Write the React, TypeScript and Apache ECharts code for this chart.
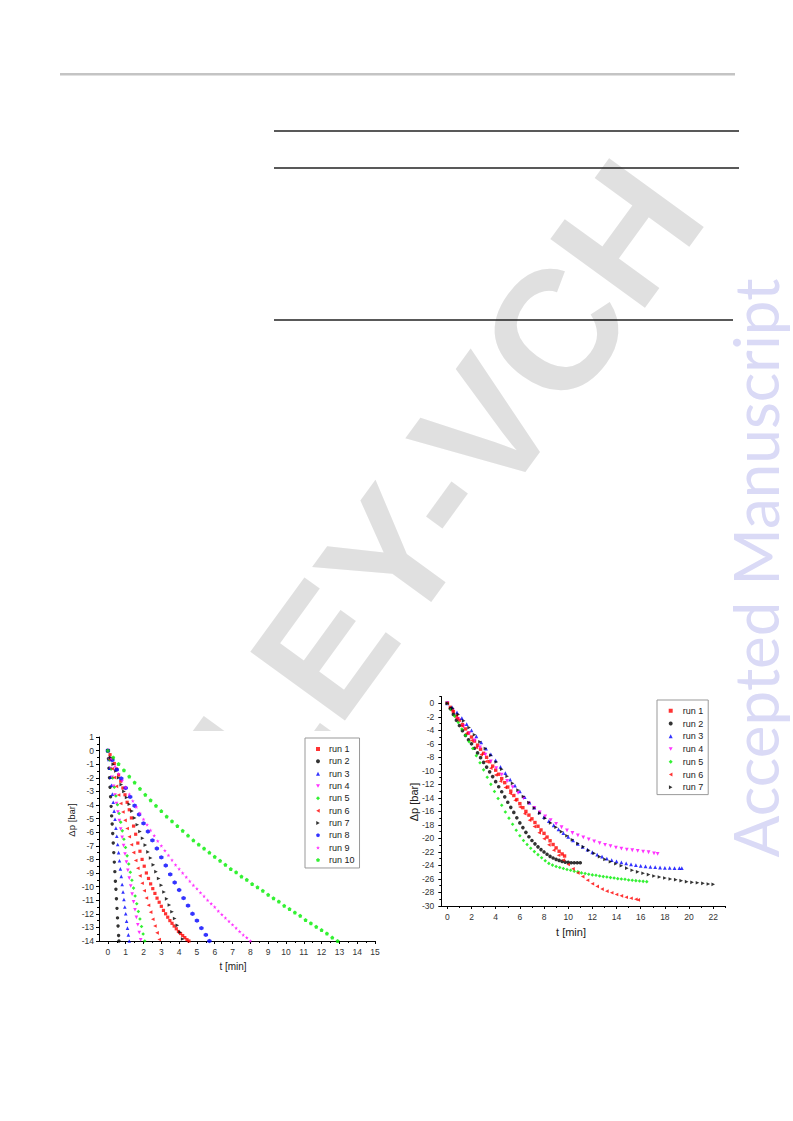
import React, { useEffect, useRef } from 'react';
import * as echarts from 'echarts';

// ---------- tick labels ----------
const LEFT_X_LABELS = [0, 1, 2, 3, 4, 5, 6, 7, 8, 9, 10, 11, 12, 13, 14, 15];
const LEFT_X_MINOR = [0.5, 1.5, 2.5, 3.5, 4.5, 5.5, 6.5, 7.5, 8.5, 9.5, 10.5, 11.5, 12.5, 13.5, 14.5];
const LEFT_Y_LABELS = [1, 0, -1, -2, -3, -4, -5, -6, -7, -8, -9, -10, -11, -12, -13, -14];
const LEFT_Y_MINOR = [0.5, -0.5, -1.5, -2.5, -3.5, -4.5, -5.5, -6.5, -7.5, -8.5, -9.5, -10.5, -11.5, -12.5, -13.5];
const RIGHT_X_LABELS = [0, 2, 4, 6, 8, 10, 12, 14, 16, 18, 20, 22];
const RIGHT_X_MINOR = [1, 3, 5, 7, 9, 11, 13, 15, 17, 19, 21, 23];
const RIGHT_Y_LABELS = [0, -2, -4, -6, -8, -10, -12, -14, -16, -18, -20, -22, -24, -26, -28, -30];
const RIGHT_Y_MINOR = [1, -1, -3, -5, -7, -9, -11, -13, -15, -17, -19, -21, -23, -25, -27, -29];

// ---------- categories ----------
const LEFT_NAMES = ['run 1', 'run 2', 'run 3', 'run 4', 'run 5', 'run 6', 'run 7', 'run 8', 'run 9', 'run 10'];
const RIGHT_NAMES = ['run 1', 'run 2', 'run 3', 'run 4', 'run 5', 'run 6', 'run 7'];

// ---------- left chart series [t, dp] ----------
const L1 = [[0,0],[0.12,-0.3],[0.24,-0.6],[0.36,-0.95],[0.48,-1.35],[0.6,-1.8],[0.72,-2.25],[0.84,-2.75],[0.96,-3.25],[1.08,-3.8],[1.2,-4.35],[1.32,-4.95],[1.44,-5.55],[1.56,-6.15],[1.68,-6.8],[1.8,-7.4],[1.92,-8.0],[2.04,-8.5],[2.16,-9.0],[2.28,-9.4],[2.4,-9.8],[2.52,-10.15],[2.64,-10.5],[2.76,-10.85],[2.88,-11.15],[3.0,-11.45],[3.12,-11.75],[3.24,-12.0],[3.36,-12.25],[3.48,-12.5],[3.6,-12.7],[3.72,-12.9],[3.84,-13.1],[3.96,-13.3],[4.08,-13.45],[4.2,-13.6],[4.32,-13.75],[4.44,-13.9],[4.55,-14.0]];
const L2 = [[0,0],[0.03,-0.6],[0.06,-1.3],[0.09,-2.0],[0.12,-2.7],[0.15,-3.4],[0.18,-4.1],[0.21,-4.8],[0.24,-5.4],[0.27,-6.1],[0.3,-6.8],[0.33,-7.5],[0.36,-8.2],[0.39,-8.9],[0.42,-9.6],[0.45,-10.2],[0.48,-10.9],[0.51,-11.6],[0.54,-12.3],[0.57,-12.9],[0.6,-13.6],[0.62,-14.0]];
const L3 = [[0,0],[0.05,-0.65],[0.1,-1.3],[0.15,-1.95],[0.2,-2.55],[0.25,-3.2],[0.3,-3.8],[0.35,-4.45],[0.4,-5.05],[0.45,-5.7],[0.5,-6.3],[0.55,-6.9],[0.6,-7.5],[0.65,-8.1],[0.7,-8.7],[0.75,-9.25],[0.8,-9.85],[0.85,-10.4],[0.9,-10.95],[0.95,-11.5],[1.0,-12.0],[1.05,-12.55],[1.1,-13.05],[1.15,-13.55],[1.2,-14.0]];
const L4 = [[0,0],[0.08,-0.66],[0.16,-1.32],[0.24,-1.97],[0.32,-2.62],[0.4,-3.26],[0.48,-3.89],[0.56,-4.52],[0.64,-5.15],[0.72,-5.77],[0.8,-6.38],[0.88,-6.99],[0.96,-7.6],[1.04,-8.2],[1.12,-8.8],[1.2,-9.38],[1.28,-9.96],[1.36,-10.55],[1.44,-11.12],[1.52,-11.7],[1.6,-12.26],[1.68,-12.81],[1.76,-13.37],[1.84,-13.92]];
const L5 = [[0,0],[0.09,-0.68],[0.18,-1.36],[0.27,-2.02],[0.36,-2.69],[0.45,-3.34],[0.54,-3.98],[0.63,-4.63],[0.72,-5.26],[0.81,-5.9],[0.9,-6.52],[0.99,-7.13],[1.08,-7.74],[1.17,-8.34],[1.26,-8.94],[1.35,-9.53],[1.44,-10.11],[1.53,-10.69],[1.62,-11.26],[1.71,-11.83],[1.8,-12.38],[1.89,-12.93],[1.98,-13.48],[2.07,-14.0]];
const L6 = [[0,0],[0.12,-0.67],[0.24,-1.33],[0.36,-1.98],[0.48,-2.63],[0.6,-3.26],[0.72,-3.89],[0.84,-4.51],[0.96,-5.13],[1.08,-5.73],[1.2,-6.33],[1.32,-6.92],[1.44,-7.5],[1.56,-8.08],[1.68,-8.65],[1.8,-9.21],[1.92,-9.75],[2.04,-10.3],[2.16,-10.84],[2.28,-11.37],[2.4,-11.88],[2.52,-12.4],[2.64,-12.9],[2.76,-13.4],[2.88,-13.89]];
const L7 = [[0,0],[0.15,-0.5],[0.3,-1.0],[0.45,-1.5],[0.6,-2.0],[0.75,-2.5],[0.9,-3.0],[1.05,-3.45],[1.2,-3.95],[1.35,-4.45],[1.5,-4.95],[1.65,-5.45],[1.8,-5.95],[1.95,-6.45],[2.1,-6.95],[2.25,-7.45],[2.4,-7.9],[2.55,-8.4],[2.7,-8.9],[2.85,-9.4],[3.0,-9.9],[3.15,-10.4],[3.3,-10.9],[3.45,-11.35],[3.6,-11.85],[3.75,-12.35],[3.9,-12.85],[4.05,-13.35],[4.2,-13.85]];
const L8 = [[0,0],[0.25,-0.7],[0.5,-1.4],[0.75,-2.05],[1.0,-2.75],[1.25,-3.4],[1.5,-4.05],[1.75,-4.7],[2.0,-5.35],[2.25,-5.95],[2.5,-6.6],[2.75,-7.2],[3.0,-7.85],[3.25,-8.45],[3.5,-9.1],[3.75,-9.7],[4.0,-10.25],[4.25,-10.85],[4.5,-11.4],[4.75,-12.0],[5.0,-12.5],[5.25,-13.05],[5.5,-13.55],[5.7,-14.0]];
const L9 = [[0,0],[0.2,-0.6],[0.4,-1.15],[0.6,-1.7],[0.8,-2.2],[1.0,-2.7],[1.2,-3.2],[1.4,-3.7],[1.6,-4.15],[1.8,-4.6],[2.0,-5.05],[2.2,-5.45],[2.4,-5.85],[2.6,-6.25],[2.8,-6.65],[3.0,-7.0],[3.2,-7.35],[3.4,-7.7],[3.6,-8.05],[3.8,-8.4],[4.0,-8.7],[4.2,-9.0],[4.4,-9.3],[4.6,-9.6],[4.8,-9.9],[5.0,-10.15],[5.2,-10.45],[5.4,-10.7],[5.6,-11.0],[5.8,-11.25],[6.0,-11.5],[6.2,-11.8],[6.4,-12.05],[6.6,-12.3],[6.8,-12.55],[7.0,-12.8],[7.2,-13.05],[7.4,-13.3],[7.6,-13.55],[7.8,-13.75],[8.0,-14.0]];
const L10 = [[0,0],[0.3,-0.5],[0.6,-0.98],[0.9,-1.45],[1.2,-1.9],[1.5,-2.35],[1.8,-2.8],[2.1,-3.25],[2.4,-3.65],[2.7,-4.05],[3.0,-4.45],[3.3,-4.85],[3.6,-5.2],[3.9,-5.55],[4.2,-5.9],[4.5,-6.25],[4.8,-6.6],[5.1,-6.9],[5.4,-7.2],[5.7,-7.5],[6.0,-7.8],[6.3,-8.1],[6.6,-8.4],[6.9,-8.7],[7.2,-8.95],[7.5,-9.25],[7.8,-9.5],[8.1,-9.8],[8.4,-10.05],[8.7,-10.3],[9.0,-10.6],[9.3,-10.85],[9.6,-11.1],[9.9,-11.4],[10.2,-11.65],[10.5,-11.9],[10.8,-12.15],[11.1,-12.45],[11.4,-12.7],[11.7,-12.95],[12.0,-13.2],[12.3,-13.45],[12.6,-13.75],[12.9,-14.0]];

// ---------- right chart series [t, dp] ----------
const R1 = [[0,0],[0.25,-0.6],[0.5,-1.25],[0.75,-1.9],[1.0,-2.5],[1.25,-3.15],[1.5,-3.8],[1.75,-4.4],[2.0,-5.0],[2.25,-5.6],[2.5,-6.2],[2.75,-6.8],[3.0,-7.4],[3.25,-8.0],[3.5,-8.65],[3.75,-9.3],[4.0,-9.9],[4.25,-10.5],[4.5,-11.15],[4.75,-11.75],[5.0,-12.4],[5.25,-13.0],[5.5,-13.65],[5.75,-14.25],[6.0,-14.85],[6.25,-15.45],[6.5,-16.0],[6.75,-16.55],[7.0,-17.1],[7.25,-17.65],[7.5,-18.2],[7.75,-18.75],[8.0,-19.25],[8.25,-19.8],[8.5,-20.35],[8.75,-20.9],[9.0,-21.4],[9.25,-21.9],[9.5,-22.3],[9.7,-22.6]];
const R2 = [[0,0],[0.25,-0.8],[0.5,-1.65],[0.75,-2.5],[1.0,-3.3],[1.25,-4.05],[1.5,-4.75],[1.75,-5.4],[2.0,-6.0],[2.25,-6.65],[2.5,-7.35],[2.75,-8.05],[3.0,-8.75],[3.25,-9.45],[3.5,-10.15],[3.75,-10.85],[4.0,-11.6],[4.25,-12.35],[4.5,-13.1],[4.75,-13.85],[5.0,-14.65],[5.25,-15.4],[5.5,-16.15],[5.75,-16.95],[6.0,-17.7],[6.25,-18.4],[6.5,-19.1],[6.75,-19.75],[7.0,-20.3],[7.25,-20.8],[7.5,-21.25],[7.75,-21.65],[8.0,-22.0],[8.25,-22.35],[8.5,-22.65],[8.75,-22.9],[9.0,-23.1],[9.25,-23.25],[9.5,-23.4],[9.75,-23.5],[10.0,-23.55],[10.25,-23.6],[10.5,-23.6],[10.75,-23.6],[11.0,-23.6]];
const R3 = [[0,0],[0.4,-0.6],[0.8,-1.35],[1.2,-2.2],[1.6,-3.1],[2.0,-4.0],[2.4,-4.9],[2.8,-5.8],[3.2,-6.7],[3.6,-7.55],[4.0,-8.45],[4.4,-9.4],[4.8,-10.35],[5.2,-11.3],[5.6,-12.2],[6.0,-13.05],[6.4,-13.9],[6.8,-14.7],[7.2,-15.45],[7.6,-16.15],[8.0,-16.85],[8.4,-17.45],[8.8,-18.05],[9.2,-18.65],[9.6,-19.2],[10.0,-19.75],[10.4,-20.3],[10.8,-20.8],[11.2,-21.25],[11.6,-21.65],[12.0,-22.05],[12.4,-22.4],[12.8,-22.7],[13.2,-23.0],[13.6,-23.2],[14.0,-23.4],[14.4,-23.55],[14.8,-23.7],[15.2,-23.85],[15.6,-23.95],[16.0,-24.05],[16.4,-24.15],[16.8,-24.2],[17.2,-24.25],[17.6,-24.3],[18.0,-24.35],[18.4,-24.35],[18.8,-24.4],[19.2,-24.4],[19.4,-24.4]];
const R4 = [[0,0],[0.45,-1.1],[0.9,-2.3],[1.35,-3.4],[1.8,-4.45],[2.25,-5.5],[2.7,-6.55],[3.15,-7.6],[3.6,-8.6],[4.05,-9.6],[4.5,-10.55],[4.95,-11.5],[5.4,-12.4],[5.85,-13.25],[6.3,-14.05],[6.75,-14.8],[7.2,-15.5],[7.65,-16.15],[8.1,-16.75],[8.55,-17.3],[9.0,-17.85],[9.45,-18.35],[9.9,-18.8],[10.35,-19.2],[10.8,-19.55],[11.25,-19.85],[11.7,-20.15],[12.15,-20.45],[12.6,-20.7],[13.05,-20.95],[13.5,-21.15],[13.95,-21.35],[14.4,-21.5],[14.85,-21.65],[15.3,-21.75],[15.75,-21.85],[16.2,-21.95],[16.65,-22.05],[17.1,-22.2],[17.4,-22.3]];
const R5 = [[0,0],[0.3,-0.95],[0.6,-1.9],[0.9,-2.85],[1.2,-3.8],[1.5,-4.75],[1.8,-5.7],[2.1,-6.7],[2.4,-7.75],[2.7,-8.8],[3.0,-9.85],[3.3,-10.95],[3.6,-12.0],[3.9,-13.05],[4.2,-14.1],[4.5,-15.1],[4.8,-16.1],[5.1,-17.0],[5.4,-17.9],[5.7,-18.8],[6.0,-19.6],[6.3,-20.3],[6.6,-20.9],[6.9,-21.45],[7.2,-21.95],[7.5,-22.4],[7.8,-22.85],[8.1,-23.3],[8.4,-23.7],[8.7,-23.95],[9.0,-24.15],[9.3,-24.3],[9.6,-24.45],[9.9,-24.6],[10.2,-24.7],[10.5,-24.85],[10.8,-24.95],[11.1,-25.1],[11.4,-25.2],[11.7,-25.3],[12.0,-25.4],[12.3,-25.45],[12.6,-25.55],[12.9,-25.65],[13.2,-25.7],[13.5,-25.8],[13.8,-25.85],[14.1,-25.95],[14.4,-26.0],[14.7,-26.05],[15.0,-26.15],[15.3,-26.2],[15.6,-26.25],[15.9,-26.3],[16.2,-26.35],[16.5,-26.4]];
const R6 = [[0,0],[0.4,-1.1],[0.8,-2.25],[1.2,-3.35],[1.6,-4.45],[2.0,-5.5],[2.4,-6.55],[2.8,-7.6],[3.2,-8.6],[3.6,-9.6],[4.0,-10.6],[4.4,-11.55],[4.8,-12.45],[5.2,-13.35],[5.6,-14.35],[6.0,-15.35],[6.4,-16.35],[6.8,-17.3],[7.2,-18.25],[7.6,-19.15],[8.0,-20.05],[8.4,-20.95],[8.8,-21.75],[9.2,-22.5],[9.6,-23.2],[10.0,-23.85],[10.4,-24.5],[10.8,-25.1],[11.2,-25.65],[11.6,-26.2],[12.0,-26.7],[12.4,-27.1],[12.8,-27.5],[13.2,-27.8],[13.6,-28.05],[14.0,-28.3],[14.4,-28.5],[14.8,-28.7],[15.2,-28.85],[15.6,-29.0],[15.8,-29.1]];
const R7 = [[0,0],[0.45,-0.75],[0.9,-1.65],[1.35,-2.6],[1.8,-3.6],[2.25,-4.65],[2.7,-5.7],[3.15,-6.7],[3.6,-7.7],[4.05,-8.7],[4.5,-9.75],[4.95,-10.8],[5.4,-11.85],[5.85,-12.85],[6.3,-13.8],[6.75,-14.7],[7.2,-15.5],[7.65,-16.25],[8.1,-17.0],[8.55,-17.7],[9.0,-18.35],[9.45,-19.0],[9.9,-19.6],[10.35,-20.2],[10.8,-20.75],[11.25,-21.25],[11.7,-21.75],[12.15,-22.2],[12.6,-22.7],[13.05,-23.1],[13.5,-23.45],[13.95,-23.75],[14.4,-24.05],[14.85,-24.4],[15.3,-24.7],[15.75,-24.95],[16.2,-25.15],[16.65,-25.35],[17.1,-25.55],[17.55,-25.7],[18.0,-25.85],[18.45,-26.0],[18.9,-26.1],[19.35,-26.25],[19.8,-26.4],[20.25,-26.5],[20.7,-26.55],[21.15,-26.65],[21.6,-26.75],[22.0,-26.8]];

const LEFT_DATA = [L1, L2, L3, L4, L5, L6, L7, L8, L9, L10];
const RIGHT_DATA = [R1, R2, R3, R4, R5, R6, R7];

// ---------- styles ----------
const COLORS = ['#ff0000', '#000000', '#0000ff', '#ff00ff', '#00ee00', '#ff0000', '#000000', '#0000ff', '#ff00ff', '#00ee00'];
const TRI_DOWN = 'path://M-10,-8.66 L10,-8.66 L0,8.66 Z';
const TRI_LEFT = 'path://M8.66,-10 L8.66,10 L-8.66,0 Z';
const TRI_RIGHT = 'path://M-8.66,-10 L-8.66,10 L8.66,0 Z';
const HEX = 'path://M0,-10 L8.66,-5 L8.66,5 L0,10 L-8.66,5 L-8.66,-5 Z';
const STAR = 'path://M0,-10 L2.35,-3.24 L9.51,-3.09 L3.8,1.24 L5.88,8.09 L0,4 L-5.88,8.09 L-3.8,1.24 L-9.51,-3.09 L-2.35,-3.24 Z';
const PENT = 'path://M0,-10 L9.51,-3.09 L5.88,8.09 L-5.88,8.09 L-9.51,-3.09 Z';
const SYMBOLS = ['rect', 'circle', 'triangle', TRI_DOWN, 'diamond', TRI_LEFT, TRI_RIGHT, HEX, STAR, PENT];
const LEFT_SIZES = [3.2, 3.4, 3.6, 3.6, 3.6, 3.6, 3.6, 4.4, 3.8, 4.0];
const RIGHT_SIZES = [3.4, 3.6, 3.8, 3.8, 3.6, 3.6, 3.6];

const FONT = '"Liberation Sans", Arial, sans-serif';

function mainXAxis(grid: number, min: number, max: number, labels: number[]) {
  return {
    type: 'value', gridIndex: grid, position: 'bottom', min, max, z: 5,
    axisLine: { show: true, onZero: false, lineStyle: { color: '#000', width: 1 } },
    axisTick: { show: true, customValues: labels, length: 3, lineStyle: { color: '#000' } },
    axisLabel: { customValues: labels, fontSize: 8.5, color: '#333', margin: 6, fontFamily: FONT },
    splitLine: { show: false },
  };
}
function minorXAxis(grid: number, min: number, max: number, ticks: number[]) {
  return {
    type: 'value', gridIndex: grid, position: 'bottom', min, max, z: 5,
    axisLine: { show: false, onZero: false },
    axisTick: { show: true, customValues: ticks, length: 2, lineStyle: { color: '#000' } },
    axisLabel: { show: false },
    splitLine: { show: false },
  };
}
function mainYAxis(grid: number, min: number, max: number, labels: number[], margin: number) {
  return {
    type: 'value', gridIndex: grid, position: 'left', min, max, z: 5,
    axisLine: { show: true, onZero: false, lineStyle: { color: '#000', width: 1 } },
    axisTick: { show: true, customValues: labels, length: 3, lineStyle: { color: '#000' } },
    axisLabel: { customValues: labels, fontSize: 8.5, color: '#333', margin, fontFamily: FONT },
    splitLine: { show: false },
  };
}
function minorYAxis(grid: number, min: number, max: number, ticks: number[]) {
  return {
    type: 'value', gridIndex: grid, position: 'left', min, max, z: 5,
    axisLine: { show: false, onZero: false },
    axisTick: { show: true, customValues: ticks, length: 2, lineStyle: { color: '#000' } },
    axisLabel: { show: false },
    splitLine: { show: false },
  };
}

export default function App() {
  const ref = useRef<HTMLDivElement>(null);
  useEffect(() => {
    if (!ref.current) return;
    const chart = echarts.init(ref.current, undefined, { renderer: 'svg' });

    const series: any[] = [];
    LEFT_DATA.forEach((d, i) => {
      series.push({
        type: 'scatter', name: LEFT_NAMES[i], xAxisIndex: 0, yAxisIndex: 0, data: d,
        symbol: SYMBOLS[i], symbolSize: LEFT_SIZES[i],
        itemStyle: { color: COLORS[i] }, z: 6, silent: true,
      });
    });
    RIGHT_DATA.forEach((d, i) => {
      series.push({
        type: 'scatter', name: RIGHT_NAMES[i], xAxisIndex: 2, yAxisIndex: 2, data: d,
        symbol: SYMBOLS[i], symbolSize: RIGHT_SIZES[i],
        itemStyle: { color: COLORS[i] }, z: 6, silent: true,
      });
    });

    const option: any = {
      animation: false,
      backgroundColor: '#fff',
      grid: [
        { left: 99, top: 737, width: 276, height: 204 },
        { left: 441.3, top: 696.5, width: 284, height: 209.5 },
      ],
      xAxis: [
        mainXAxis(0, -0.5, 15, LEFT_X_LABELS),
        minorXAxis(0, -0.5, 15, LEFT_X_MINOR),
        mainXAxis(1, -0.5, 23, RIGHT_X_LABELS),
        minorXAxis(1, -0.5, 23, RIGHT_X_MINOR),
      ],
      yAxis: [
        mainYAxis(0, -14, 1, LEFT_Y_LABELS, 5),
        minorYAxis(0, -14, 1, LEFT_Y_MINOR),
        mainYAxis(1, -30, 1, RIGHT_Y_LABELS, 7),
        minorYAxis(1, -30, 1, RIGHT_Y_MINOR),
      ],
      legend: [
        {
          orient: 'vertical', left: 305, top: 738, data: LEFT_NAMES, selectedMode: false,
          itemWidth: 4, itemHeight: 4, itemGap: 0.33, padding: [5, 5, 2, 11],
          borderColor: '#999', borderWidth: 1, backgroundColor: '#fff', z: 8,
          textStyle: { fontSize: 9, fontFamily: FONT, color: '#222', lineHeight: 12, padding: [0, 0, 0, 4] },
        },
        {
          orient: 'vertical', left: 657, top: 700, data: RIGHT_NAMES, selectedMode: false,
          itemWidth: 4, itemHeight: 4, itemGap: 0.27, padding: [4.5, 5, 1, 11.7],
          borderColor: '#999', borderWidth: 1, backgroundColor: '#fff', z: 8,
          textStyle: { fontSize: 9, fontFamily: FONT, color: '#222', lineHeight: 12.5, padding: [0, 0, 0, 5] },
        },
      ],
      graphic: [
        {
          type: 'text', x: 385, y: 565, rotation: (54 * Math.PI) / 180, z: 1, silent: true,
          style: {
            text: 'WILEY-VCH', fill: '#e0e0e0', fontSize: 170, fontWeight: 'bold', fontFamily: FONT,
            textAlign: 'center', textVerticalAlign: 'middle',
          },
        },
        { type: 'rect', shape: { x: 0, y: 731, width: 392, height: 252 }, style: { fill: '#fff' }, z: 2, silent: true },
        { type: 'line', shape: { x1: 60, y1: 74.3, x2: 735, y2: 74.3 }, style: { stroke: '#c4c4c4', lineWidth: 2.5 }, z: 3, silent: true },
        { type: 'line', shape: { x1: 274, y1: 131, x2: 739, y2: 131 }, style: { stroke: '#222', lineWidth: 1.5 }, z: 3, silent: true },
        { type: 'line', shape: { x1: 274, y1: 168, x2: 739, y2: 168 }, style: { stroke: '#222', lineWidth: 1.5 }, z: 3, silent: true },
        { type: 'line', shape: { x1: 274, y1: 320, x2: 733, y2: 320 }, style: { stroke: '#222', lineWidth: 1.5 }, z: 3, silent: true },
        {
          type: 'text', x: 71.5, y: 820, rotation: Math.PI / 2, z: 9, silent: true,
          style: { text: 'Δp [bar]', fill: '#222', fontSize: 9.5, fontFamily: FONT, textAlign: 'center', textVerticalAlign: 'middle' },
        },
        {
          type: 'text', x: 233, y: 966.7, z: 9, silent: true,
          style: { text: 't [min]', fill: '#222', fontSize: 10, fontFamily: FONT, textAlign: 'center', textVerticalAlign: 'middle' },
        },
        {
          type: 'text', x: 413.5, y: 802, rotation: Math.PI / 2, z: 9, silent: true,
          style: { text: 'Δp [bar]', fill: '#222', fontSize: 11, fontFamily: FONT, textAlign: 'center', textVerticalAlign: 'middle' },
        },
        {
          type: 'text', x: 571, y: 932, z: 9, silent: true,
          style: { text: 't [min]', fill: '#222', fontSize: 11, fontFamily: FONT, textAlign: 'center', textVerticalAlign: 'middle' },
        },
        {
          type: 'text', x: 755, y: 568, rotation: Math.PI / 2, z: 20, silent: true,
          style: { text: 'Accepted Manuscript', fill: '#dadaf6', fontSize: 62, fontFamily: 'Lato, "Open Sans", sans-serif', textAlign: 'center', textVerticalAlign: 'middle' },
        },
      ],
      series,
    };
    chart.setOption(option);
    return () => chart.dispose();
  }, []);

  return (
    <div
      ref={ref}
      style={{ position: 'absolute', left: 0, top: 0, width: 793, height: 1121, background: '#fff' }}
    />
  );
}
